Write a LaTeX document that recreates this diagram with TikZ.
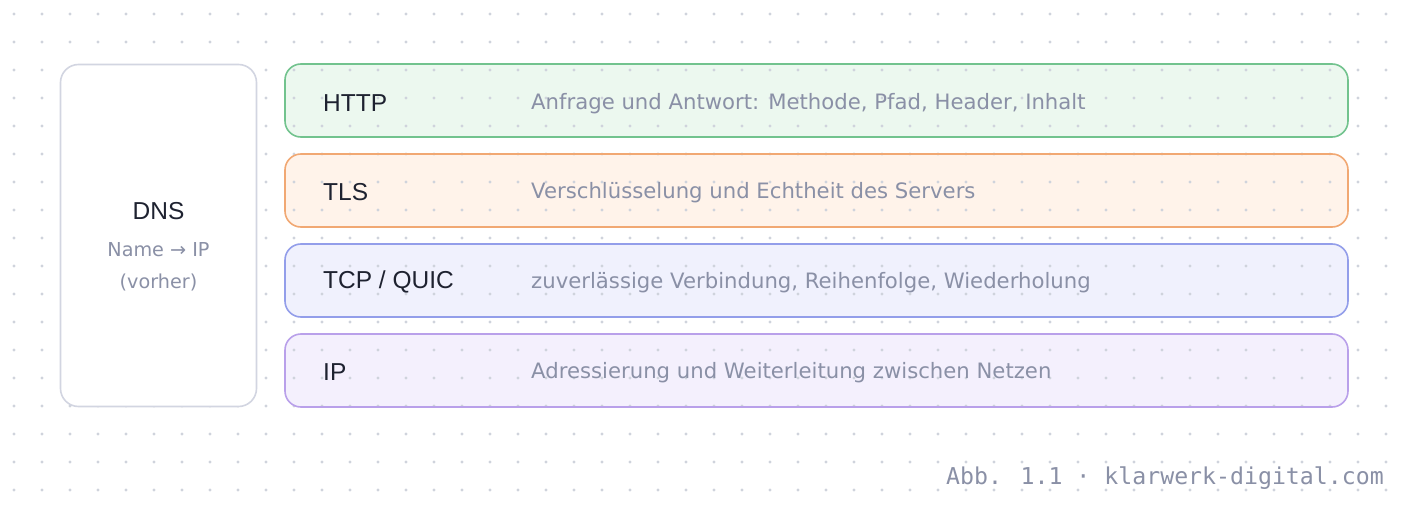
\documentclass[tikz,border=0pt]{standalone}
\usepackage{fontspec}
\setmainfont{Liberation Sans}
\newfontfamily\descf{DejaVu Sans}
\newfontfamily\monof{DejaVu Sans Mono}
\definecolor{dotc}{HTML}{CFD3DC}
\definecolor{inkc}{HTML}{1E2230}
\definecolor{mutedc}{HTML}{8A90A6}
\definecolor{dnsb}{HTML}{D2D5E1}
\definecolor{httpb}{HTML}{72C38E}
\definecolor{httpf}{HTML}{ECF8EF}
\definecolor{tlsb}{HTML}{F1A873}
\definecolor{tlsf}{HTML}{FFF3EA}
\definecolor{tcpb}{HTML}{939EEA}
\definecolor{tcpf}{HTML}{F0F1FD}
\definecolor{ipb}{HTML}{B9A0EA}
\definecolor{ipf}{HTML}{F4F0FD}
\tikzset{
  layerbox/.style={rounded corners=16pt, line width=1.6pt, minimum width=1063pt, minimum height=73pt, inner sep=0pt},
  namelbl/.style={anchor=west, inner sep=0pt, text=inkc, font=\fontsize{24.5}{28}\selectfont},
  desclbl/.style={anchor=west, inner sep=0pt, text=mutedc, font=\descf\fontsize{21.2}{25}\selectfont},
  dnssub/.style={inner sep=0pt, text=mutedc, font=\descf\fontsize{19.2}{22}\selectfont},
}
\begin{document}
\begin{tikzpicture}[x=1pt,y=-1pt]
\useasboundingbox (0,0) rectangle (1408,508);
\fill[white] (0,0) rectangle (1408,508);
% layer fills
\fill[httpf] (285,64) [rounded corners=16pt] rectangle (1348,137);
\fill[tlsf] (285,154) [rounded corners=16pt] rectangle (1348,227);
\fill[tcpf] (285,244) [rounded corners=16pt] rectangle (1348,317);
\fill[ipf] (285,334) [rounded corners=16pt] rectangle (1348,407);
% dot grid
\foreach \i in {0,...,49}{
  \foreach \j in {0,...,17}{
    \fill[dotc] ({14+28*\i},{14+28*\j}) circle (1.6);
  }
}
% DNS box
\node[draw=dnsb, fill=white, line width=1.6pt, rounded corners=18pt, minimum width=196pt, minimum height=342pt, inner sep=0pt] (dns) at (158.5,235.5) {};
\node[inner sep=0pt, text=inkc, font=\fontsize{24.5}{28}\selectfont] (dnsname) at (158.5,211) {DNS};
\node[dnssub] (dnsmap) at (158.5,250) {Name → IP};
\node[dnssub] (dnswhen) at (158.5,282) {(vorher)};
% layers
\node[draw=httpb, layerbox] (http) at (816.5,100.5) {};
\node[draw=tlsb, layerbox] (tls) at (816.5,190.5) {};
\node[draw=tcpb, layerbox] (tcp) at (816.5,280.5) {};
\node[draw=ipb, layerbox] (ip) at (816.5,370.5) {};
\node[namelbl] (httpn) at (323,103) {HTTP};
\node[desclbl] (httpd) at (531,103.5) {Anfrage und Antwort: Methode, Pfad, Header, Inhalt};
\node[namelbl] (tlsn) at (323,192) {TLS};
\node[desclbl] (tlsd) at (531,192.5) {Verschlüsselung und Echtheit des Servers};
\node[namelbl] (tcpn) at (323,282) {TCP / QUIC};
\node[desclbl] (tcpd) at (531,282.5) {zuverlässige Verbindung, Reihenfolge, Wiederholung};
\node[namelbl] (ipn) at (323,372) {IP};
\node[desclbl] (ipd) at (531,372.5) {Adressierung und Weiterleitung zwischen Netzen};
% footer
\node[anchor=east, inner sep=0pt, text=mutedc, font=\monof\fontsize{23.2}{26}\selectfont] (foot) at (1384,478) {Abb. 1.1 · klarwerk-digital.com};
\end{tikzpicture}
\end{document}
